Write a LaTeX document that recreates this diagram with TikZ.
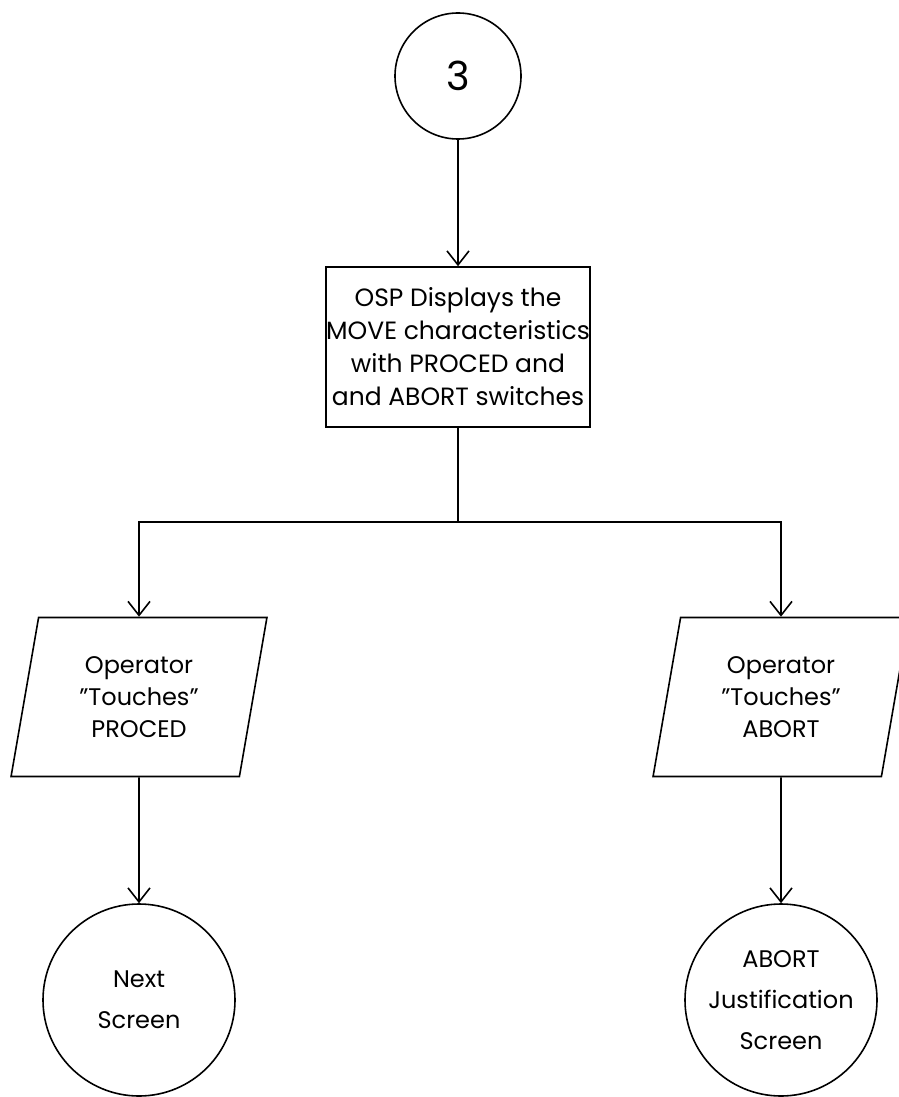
\documentclass[tikz,border=0pt]{standalone}
\usepackage{fontspec}
\setmainfont{Poppins}
\usetikzlibrary{shapes.geometric, arrows.meta}

\begin{document}
\begin{tikzpicture}[>={Straight Barb[length=14pt, width=22pt]}, node distance=271pt, x=1pt, y=1pt, line width=1.6pt]
    \tikzset{
        start/.style={circle, draw, minimum size=126pt, inner sep=0pt, font=\fontsize{40}{44}\selectfont},
        proc/.style={rectangle, draw, minimum width=258pt, minimum height=160pt, inner sep=0pt, align=center, font=\fontsize{25}{33}\selectfont},
        touch/.style={trapezium, draw, trapezium left angle=78.6, trapezium right angle=101.4, trapezium stretches=true, minimum width=256pt, minimum height=159pt, inner sep=0pt, align=center, font=\fontsize{24}{32}\selectfont},
        screen/.style={circle, draw, minimum size=192pt, inner sep=0pt, align=center, font=\fontsize{24}{41}\selectfont}
    }
    \useasboundingbox (0,0) rectangle (899,-1097);

        \node[start] (S) at (458,-76) {3};
        \node[proc] (P) [below of=S] {OSP Displays the\\MOVE characteristics\\with PROCED and\\and ABORT switches};
        \coordinate[below of=P, node distance=175pt] (J);
        \node[touch] (L) at (139,-697) {Operator\\"Touches"\\PROCED};
        \node[touch] (R) at (781,-697) {Operator\\"Touches"\\ABORT};
        \node[screen] (N) [below of=L, node distance=303pt] {Next\\Screen};
        \node[screen] (A) [below of=R, node distance=303pt] {ABORT\\Justification\\Screen};

        \draw[->] (S) -- (P);
        \draw (P) -- (J);
        \draw[->] (J) -| (L);
        \draw[->] (J) -| (R);
        \draw[->] (L) -- (N);
        \draw[->] (R) -- (A);

    \end{tikzpicture}
\end{document}
